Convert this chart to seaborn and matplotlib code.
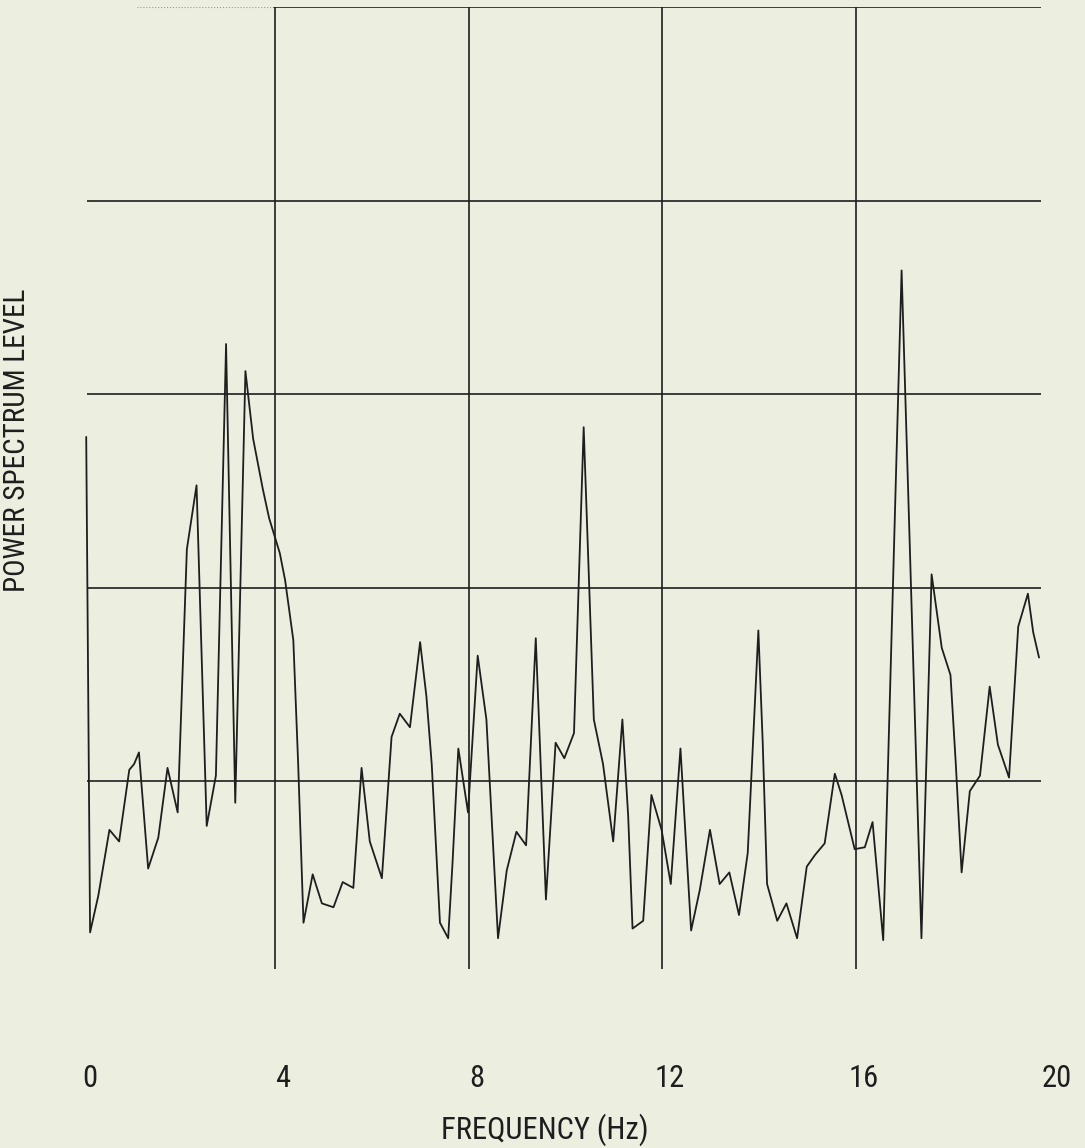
import numpy as np
import pandas as pd
import seaborn as sns
from matplotlib import pyplot as plt
from matplotlib import font_manager
from matplotlib import transforms

# frequency (Hz) and power spectrum level (grid units)
freq = [0.10, 0.18, 0.35, 0.58, 0.78, 0.99, 1.09, 1.19, 1.38, 1.59,
        1.78, 1.99, 2.18, 2.38, 2.59, 2.78, 2.99, 3.18, 3.39, 3.55,
        3.75, 3.88, 4.10, 4.21, 4.38, 4.48, 4.59, 4.78, 4.97, 5.21,
        5.40, 5.62, 5.79, 5.96, 6.21, 6.41, 6.58, 6.79, 7.00, 7.13,
        7.24, 7.41, 7.58, 7.67, 7.79, 7.99, 8.19, 8.37, 8.61, 8.79,
        8.99, 9.19, 9.39, 9.60, 9.80, 9.98, 10.18, 10.38, 10.59, 10.78,
        10.99, 11.18, 11.30, 11.39, 11.61, 11.78, 11.99, 12.18, 12.38, 12.60,
        12.78, 12.99, 13.19, 13.39, 13.59, 13.77, 13.99, 14.08, 14.17, 14.38,
        14.57, 14.79, 14.99, 15.16, 15.36, 15.57, 15.71, 15.98, 16.19, 16.35,
        16.57, 16.95, 17.36, 17.57, 17.78, 17.96, 18.07, 18.19, 18.36, 18.57,
        18.77, 18.94, 19.17, 19.36, 19.56, 19.67, 19.79]
level = [2.78, 0.22, 0.41, 0.75, 0.69, 1.06, 1.09, 1.15, 0.55, 0.71,
         1.07, 0.84, 2.20, 2.53, 0.77, 1.03, 3.26, 0.89, 3.12, 2.77,
         2.51, 2.36, 2.18, 2.04, 1.73, 1.09, 0.27, 0.52, 0.37, 0.35,
         0.48, 0.45, 1.07, 0.69, 0.50, 1.23, 1.35, 1.28, 1.72, 1.44,
         1.09, 0.27, 0.19, 0.58, 1.17, 0.84, 1.65, 1.32, 0.19, 0.54,
         0.74, 0.67, 1.74, 0.39, 1.20, 1.12, 1.25, 2.83, 1.32, 1.09,
         0.69, 1.32, 0.82, 0.24, 0.28, 0.93, 0.75, 0.47, 1.17, 0.23,
         0.44, 0.75, 0.47, 0.53, 0.31, 0.63, 1.78, 1.20, 0.47, 0.28,
         0.37, 0.19, 0.56, 0.62, 0.68, 1.04, 0.93, 0.65, 0.66, 0.79,
         0.18, 3.64, 0.19, 2.07, 1.69, 1.55, 1.09, 0.53, 0.95, 1.03,
         1.49, 1.19, 1.02, 1.80, 1.97, 1.77, 1.64]

xticks = [0, 4, 8, 12, 16, 20]
vgrid = [4, 8, 12, 16]
hgrid = [1, 2, 3, 4]

paper = '#eceee0'
ink = '#1e1e1e'

sns.set_style("white")
names = {f.name for f in font_manager.fontManager.ttflist}
fam = 'DejaVu Sans'
for cand in ['Liberation Sans Narrow', 'Roboto Condensed', 'Open Sans Condensed']:
    if cand in names:
        fam = cand
        break
plt.rcParams['font.family'] = [fam, 'DejaVu Sans']

fig = plt.figure(figsize=(10.85, 11.48), dpi=100, facecolor=paper)
ax = fig.add_axes([0.075, 0.1507, 0.892, 0.843])
ax.set_facecolor(paper)

data_ = pd.DataFrame({'freq': freq, 'level': level})

# grid drawn like the original plotter frame
ax.vlines(vgrid, 0.03, 5.0, color=ink, lw=1.2)
ax.hlines(hgrid, 0.12, 19.83, color=ink, lw=1.2)
ax.hlines(5.0, 3.95, 19.83, color=ink, lw=1.2)
ax.hlines(5.0, 1.15, 3.95, color='#9a9a90', lw=0.8, linestyles=':')

sns.lineplot(x='freq', y='level', data=data_, sort=False, estimator=None,
             color=ink, lw=1.3, ax=ax)

ax.set_xlim(0, 20)
ax.set_ylim(0, 5)
for s in ax.spines.values():
    s.set_visible(False)
ax.set_xticks(xticks)
ax.set_xticklabels([str(t) for t in xticks], fontsize=22, color=ink)
ax.set_yticks([])
ax.tick_params(axis='x', length=0, pad=64)
shift = transforms.ScaledTranslation(8 / 100, 0, fig.dpi_scale_trans)
for lab in ax.get_xticklabels():
    lab.set_transform(lab.get_transform() + shift)

ax.set_xlabel('FREQUENCY (Hz)', fontsize=22, color=ink)
ax.xaxis.set_label_coords(0.479, -0.143)
ax.set_ylabel('POWER SPECTRUM LEVEL', fontsize=21, color=ink)
ax.yaxis.set_label_coords(-0.052, 0.553)

plt.savefig('out.png', dpi=100, facecolor=paper)
